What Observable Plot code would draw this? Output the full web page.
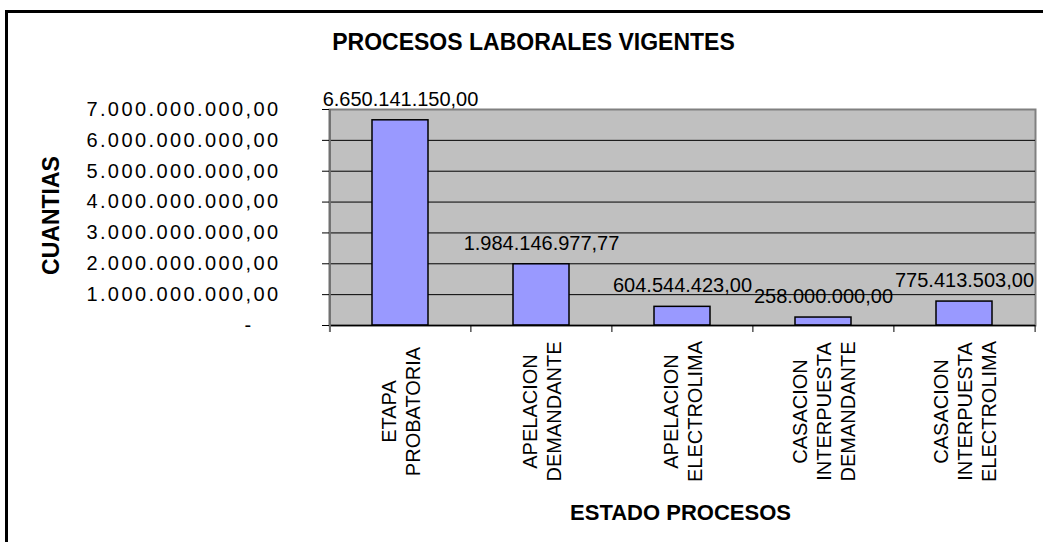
<!DOCTYPE html>
<html>
<head>
<meta charset="utf-8">
<script src="https://cdn.jsdelivr.net/npm/d3@7"></script>
<script src="https://cdn.jsdelivr.net/npm/@observablehq/plot@0.6"></script>
<style>
  html, body { margin: 0; padding: 0; background: #fff; overflow: hidden; }
  #wrap { position: relative; width: 1043px; height: 542px; }
  #border { position: absolute; left: 5px; top: 10px; width: 1100px; height: 600px;
            border-left: 3px solid #000; border-top: 3px solid #000; }
  #chart { position: absolute; left: 0; top: 0; }
  #chart [aria-label="y-axis tick label"] { letter-spacing: 2.4px; }
</style>
</head>
<body>
<div id="wrap"><div id="border"></div><div id="chart"></div></div>
<script>
const categories = [
  "ETAPA\nPROBATORIA",
  "APELACION\nDEMANDANTE",
  "APELACION\nELECTROLIMA",
  "CASACION\nINTERPUESTA\nDEMANDANTE",
  "CASACION\nINTERPUESTA\nELECTROLIMA"
];
const values = [6650141150, 1984146977.77, 604544423, 258000000, 775413503];
const yTicks = [0, 1e9, 2e9, 3e9, 4e9, 5e9, 6e9, 7e9];
const title = "PROCESOS LABORALES VIGENTES";
const xTitle = "ESTADO PROCESOS";
const yTitle = "CUANTIAS";

const data = categories.map((c, i) => ({cat: c, value: values[i]}));

const W = 1043, H = 542, ML = 329, MR = 8, MT = 109, MB = 217;
const step = (W - ML - MR) / categories.length;
const locale = d3.formatLocale({decimal: ",", thousands: ".", grouping: [3], currency: ["", ""]});
const fmt = locale.format(",.2f");
const font = "'Liberation Sans', Arial, sans-serif";

const plot = Plot.plot({
  width: W, height: H,
  marginLeft: ML, marginRight: MR, marginTop: MT, marginBottom: MB,
  style: {background: "transparent", fontFamily: font, color: "#000"},
  x: {domain: categories, paddingInner: 0.6, paddingOuter: 0.3, axis: null, label: null},
  y: {domain: [0, 7e9], axis: null, label: null},
  marks: [
    Plot.frame({fill: "#c0c0c0", stroke: "#808080", strokeWidth: 2}),
    Plot.gridY(yTicks.slice(1, -1), {stroke: "#000", strokeOpacity: 1, strokeWidth: 1}),
    Plot.barY(data, {x: "cat", y: "value", fill: "#9999ff", stroke: "#000", strokeWidth: 1.5}),
    Plot.ruleY([0], {stroke: "#000", strokeWidth: 1.5}),
    Plot.ruleX(categories, {x: d => d, y1: 0, y2: 0, insetBottom: -7, dx: -step / 2, stroke: "#000"}),
    Plot.ruleX(categories.slice(-1), {x: d => d, y1: 0, y2: 0, insetBottom: -7, dx: step / 2, stroke: "#000"}),
    Plot.ruleX(categories.slice(0, 1), {x: d => d, y1: 7e9, y2: 0, insetBottom: -7, dx: -step / 2, stroke: "#707070", strokeWidth: 2}),
    Plot.axisY(yTicks, {
      anchor: "left", label: null, tickSize: 7, tickPadding: 42, fontSize: 20, fontFamily: font,
      tickFormat: d => d === 0 ? "-\u2007\u2007" : fmt(d), stroke: "#000"
    }),
    Plot.text(data, {
      x: "cat", y: "value", text: d => fmt(d.value), dy: -21,
      fontSize: 20, fontFamily: font, fill: "#000"
    }),
    Plot.text(categories, {
      x: d => d, text: d => d, frameAnchor: "bottom", dy: 86, rotate: -90,
      textAnchor: "middle", lineAnchor: "middle", lineHeight: 1.2,
      fontSize: 20, fontFamily: font, fill: "#000"
    }),
    Plot.text([title], {
      frameAnchor: "top", lineAnchor: "middle", dx: 533 - (ML + (W - MR)) / 2, dy: -67,
      fontSize: 23, fontWeight: "bold", fontFamily: font, fill: "#000"
    }),
    Plot.text([xTitle], {
      frameAnchor: "bottom", lineAnchor: "middle", dx: -2, dy: 187,
      fontSize: 22, fontWeight: "bold", fontFamily: font, fill: "#000"
    }),
    Plot.text([yTitle], {
      frameAnchor: "left", lineAnchor: "middle", textAnchor: "middle", rotate: -90, dx: -278, dy: -2,
      fontSize: 23, fontWeight: "bold", fontFamily: font, fill: "#000"
    })
  ]
});
document.getElementById("chart").appendChild(plot);
</script>
</body>
</html>
